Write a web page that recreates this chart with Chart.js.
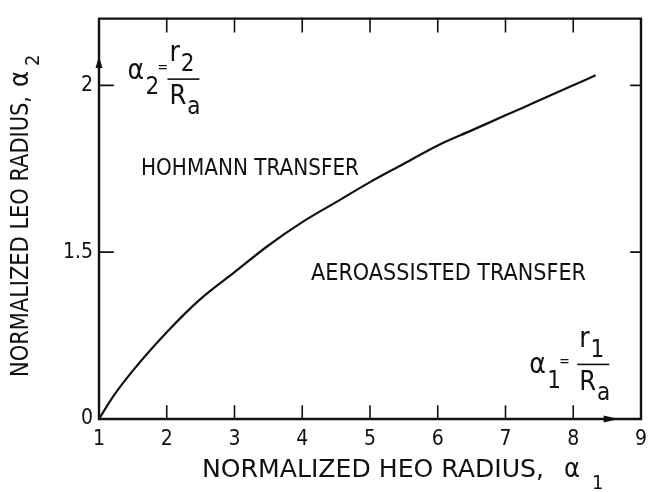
<!DOCTYPE html>
<html>
<head>
<meta charset="utf-8">
<title>Normalized LEO radius vs HEO radius</title>
<script src="https://cdn.jsdelivr.net/npm/chart.js@4.4.0/dist/chart.umd.min.js"></script>
<style>
  html, body { margin: 0; padding: 0; background: #fff; }
</style>
</head>
<body>
<canvas id="boundary" width="655" height="492"></canvas>
<script>
// boundary curve: above it Hohmann transfer, below it aeroassisted transfer
const heoRadius = [1.0, 1.2, 1.5, 2.0, 2.5, 3.0, 3.5, 4.0, 4.5, 5.0, 5.5, 6.0, 6.5, 7.0, 7.5, 8.0, 8.33];
const leoRadius = [1.0, 1.065, 1.145, 1.26, 1.36, 1.44, 1.52, 1.59, 1.65, 1.71, 1.765, 1.82, 1.865, 1.91, 1.955, 2.0, 2.03];

const xTicks = [1, 2, 3, 4, 5, 6, 7, 8, 9];
const yTicks = [1, 1.5, 2];
const yTickLabels = ['0', '1.5', '2'];

const FONT = '"DejaVu Sans Condensed", "DejaVu Sans", sans-serif';
const INK = '#111';

// squeeze/stretch a string horizontally so it spans the given width
function fitText(ctx, text, x, y, size, width) {
  ctx.font = size + 'px ' + FONT;
  const w = ctx.measureText(text).width;
  ctx.save();
  ctx.translate(x, y);
  ctx.scale(width / w, 1);
  ctx.fillText(text, 0, 0);
  ctx.restore();
}

function put(ctx, text, x, y, size) {
  ctx.font = size + 'px ' + FONT;
  ctx.fillText(text, x, y);
  return ctx.measureText(text).width;
}

// alpha_n = r_n / R_a, x = left of alpha, b = alpha baseline
function ratioLabel(ctx, x, b, sub, fracDx, fracDy) {
  put(ctx, 'α', x, b, 28);
  put(ctx, sub, x + 18, b + 15, 24);
  put(ctx, '=', x + 30, b - 7, 14);
  const fx = x + fracDx, fb = b + fracDy;
  ctx.fillRect(fx, fb - 1, 32, 1.6);
  const rw = put(ctx, 'r', fx + 2, fb - 18, 28);
  put(ctx, sub, fx + 3 + rw, fb - 8, 24);
  const Rw = put(ctx, 'R', fx + 2, fb + 25, 27);
  put(ctx, 'a', fx + 3 + Rw, fb + 35, 24);
}

const framePlugin = {
  id: 'framePlugin',
  afterDraw(chart) {
    const { ctx, chartArea: a, scales: { x, y } } = chart;
    ctx.save();
    ctx.strokeStyle = INK;
    ctx.fillStyle = INK;
    ctx.lineCap = 'square';

    // box
    ctx.lineWidth = 2.4;
    ctx.beginPath();
    ctx.moveTo(a.left, a.bottom);
    ctx.lineTo(a.left, a.top);
    ctx.lineTo(a.right, a.top);
    ctx.lineTo(a.right, a.bottom);
    ctx.lineTo(a.left, a.bottom);
    ctx.stroke();

    // inward ticks
    ctx.lineWidth = 1.6;
    ctx.beginPath();
    xTicks.slice(1, -1).forEach(v => {
      const px = x.getPixelForValue(v);
      ctx.moveTo(px, a.bottom);
      ctx.lineTo(px, a.bottom - 13);
      ctx.moveTo(px, a.top);
      ctx.lineTo(px, a.top + 13);
    });
    yTicks.slice(1).forEach(v => {
      const py = y.getPixelForValue(v);
      ctx.moveTo(a.left, py);
      ctx.lineTo(a.left + 14, py);
      ctx.moveTo(a.right, py);
      ctx.lineTo(a.right - 10, py);
    });
    ctx.stroke();

    // axis arrows
    const ay = y.getPixelForValue(2.07);
    ctx.beginPath();
    ctx.moveTo(a.left, ay - 6);
    ctx.lineTo(a.left - 3.5, ay + 6);
    ctx.lineTo(a.left + 3.5, ay + 6);
    ctx.closePath();
    ctx.fill();
    const ax = x.getPixelForValue(8.67);
    ctx.beginPath();
    ctx.moveTo(ax, a.bottom);
    ctx.lineTo(ax - 15, a.bottom - 3.5);
    ctx.lineTo(ax - 15, a.bottom + 3.5);
    ctx.closePath();
    ctx.fill();

    // region names and ratio definitions
    ctx.textAlign = 'left';
    ctx.textBaseline = 'alphabetic';
    fitText(ctx, 'HOHMANN TRANSFER', x.getPixelForValue(1.62), y.getPixelForValue(1.73), 23, 218);
    fitText(ctx, 'AEROASSISTED TRANSFER', x.getPixelForValue(4.13), y.getPixelForValue(1.417), 23, 275);
    ratioLabel(ctx, x.getPixelForValue(1.42), y.getPixelForValue(2.018), '2', 40, 0);
    ratioLabel(ctx, x.getPixelForValue(7.35), y.getPixelForValue(1.139), '1', 48, -8);

    // axis titles
    fitText(ctx, 'NORMALIZED HEO RADIUS,', 202, 477, 25, 342);
    put(ctx, 'α', 564, 477, 27);
    put(ctx, '1', 592, 489, 20);

    ctx.translate(28, 377);
    ctx.rotate(-Math.PI / 2);
    fitText(ctx, 'NORMALIZED LEO RADIUS,', 0, 0, 25, 281);
    put(ctx, 'α', 290, 0, 27);
    put(ctx, '2', 311, 11, 20);
    ctx.restore();
  }
};

new Chart(document.getElementById('boundary'), {
  type: 'line',
  data: {
    datasets: [{
      data: heoRadius.map((v, i) => ({ x: v, y: leoRadius[i] })),
      borderColor: INK,
      borderWidth: 2.2,
      pointRadius: 0,
      fill: false,
      cubicInterpolationMode: 'monotone'
    }]
  },
  options: {
    responsive: false,
    animation: false,
    devicePixelRatio: 1,
    layout: { padding: { top: 10, right: 4, left: 0, bottom: 0 } },
    plugins: { legend: { display: false }, tooltip: { enabled: false } },
    scales: {
      x: {
        type: 'linear',
        min: 1,
        max: 9,
        afterBuildTicks: s => { s.ticks = xTicks.map(v => ({ value: v })); },
        afterFit: s => { s.height = 73; },
        grid: { display: false, drawTicks: false },
        border: { display: false },
        ticks: { color: INK, padding: 8, maxRotation: 0, autoSkip: false, font: { family: FONT, size: 21 } }
      },
      y: {
        type: 'linear',
        min: 1,
        max: 2.2,
        afterBuildTicks: s => { s.ticks = yTicks.map(v => ({ value: v })); },
        afterFit: s => { s.width = 99; },
        grid: { display: false, drawTicks: false },
        border: { display: false },
        ticks: {
          color: INK,
          padding: 6,
          font: { family: FONT, size: 21 },
          callback: v => yTickLabels[yTicks.indexOf(v)]
        }
      }
    }
  },
  plugins: [framePlugin]
});
</script>
</body>
</html>
